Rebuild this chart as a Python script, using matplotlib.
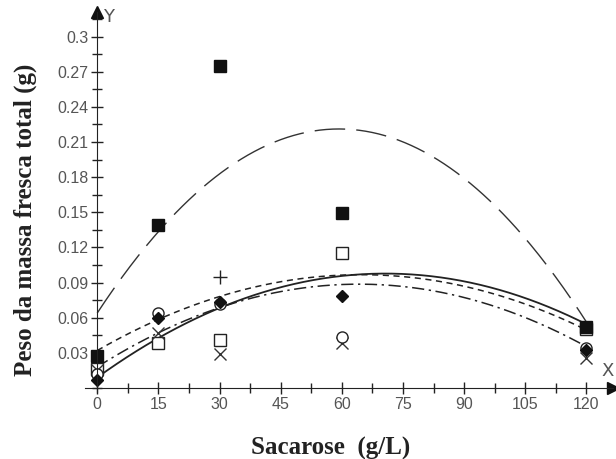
import numpy as np
import matplotlib.pyplot as plt
from matplotlib.ticker import MultipleLocator, FuncFormatter

# sucrose levels (g/L)
sacarose = [0, 15, 30, 60, 120]

# observed means, one list per treatment (marker)
quad_cheio = [0.027, 0.139, 0.275, 0.149, 0.052]     # filled square
quad_vazio = [0.016, 0.0385, 0.041, 0.115, 0.050]    # open square
losango = [0.007, 0.060, 0.0735, 0.0786, 0.0325]     # filled diamond
circulo = [0.012, 0.064, 0.072, 0.0436, 0.034]       # open circle
xis = [0.015, 0.047, 0.029, 0.0385, 0.026]           # x
mais_x = [30]
mais = [0.095]                                       # plus

# quadratic fits (c, b, a)  y = c + b*x + a*x^2
fit_quad_cheio = (0.064, 0.0053, -4.47e-5)
fit_solida = (0.009, 0.00251, -1.776e-5)
fit_tracejada = (0.032, 0.0020, -1.545e-5)
fit_traco_ponto = (0.018, 0.0022, -1.713e-5)

yticks = [0.03, 0.06, 0.09, 0.12, 0.15, 0.18, 0.21, 0.24, 0.27, 0.3]
xticks = [0, 15, 30, 45, 60, 75, 90, 105, 120]

fig = plt.figure(figsize=(6.16, 4.59), dpi=100)
ax = fig.add_axes([0.138, 0.147, 0.857, 0.827])

xs = np.linspace(0, 120, 300)
def curva(coef):
    c, b, a = coef
    return c + b * xs + a * xs ** 2

ax.plot(xs, curva(fit_quad_cheio), color='#333333', lw=1.0, dashes=(22, 8))
ax.plot(xs, curva(fit_solida), color='#222222', lw=1.3)
ax.plot(xs, curva(fit_tracejada), color='#222222', lw=1.1, dashes=(4, 3))
ax.plot(xs, curva(fit_traco_ponto), color='#222222', lw=1.1, dashes=(8, 3, 1.5, 3))

ax.plot(sacarose, quad_vazio, 's', ms=8, mfc='white', mec='#222222', mew=1.0, ls='none', clip_on=False)
ax.plot(sacarose, xis, 'x', ms=9, color='#333333', mew=1.0, ls='none', clip_on=False)
ax.plot(sacarose, circulo, 'o', ms=8, mfc='white', mec='#222222', mew=1.0, ls='none', clip_on=False)
ax.plot(sacarose, losango, 'D', ms=6, color='#111111', ls='none', clip_on=False)
ax.plot(mais_x, mais, '+', ms=10, color='#222222', mew=1.0, ls='none')
ax.plot(sacarose, quad_cheio, 's', ms=9, color='#111111', ls='none', clip_on=False)

ax.set_xlim(-3, 126.5)
ax.set_ylim(-0.003, 0.321)

for side in ['top', 'right']:
    ax.spines[side].set_visible(False)
ax.spines['left'].set_position(('data', 0))
ax.spines['bottom'].set_position(('data', 0))
ax.spines['left'].set_color('#222222')
ax.spines['bottom'].set_color('#222222')

# arrow heads at the end of the axes
ax.plot(1, 0, '>', color='#111111', ms=9, transform=ax.get_yaxis_transform(), clip_on=False)
ax.plot(0, 1, '^', color='#111111', ms=9, transform=ax.get_xaxis_transform(), clip_on=False)
ax.text(1.5, 0.317, 'Y', fontsize=13, color='#555555', va='center', family='DejaVu Sans')
ax.text(125.3, 0.0145, 'X', fontsize=13, color='#555555', ha='center', va='center', family='DejaVu Sans')

ax.set_xticks(xticks)
ax.set_yticks(yticks)
ax.xaxis.set_minor_locator(MultipleLocator(7.5))
ax.yaxis.set_minor_locator(MultipleLocator(0.015))
ax.yaxis.set_major_formatter(FuncFormatter(lambda v, p: ('%g' % round(v, 3))))
ax.tick_params(which='major', direction='inout', length=9, width=1, color='#222222',
               labelsize=11.5, labelcolor='#555555', pad=2)
ax.tick_params(which='minor', direction='inout', length=7, width=1, color='#222222')
for lab in ax.get_xticklabels() + ax.get_yticklabels():
    lab.set_family('Liberation Sans')

fig.text(0.536, 0.022, 'Sacarose  (g/L)', fontsize=18, fontweight='bold',
         family='Liberation Serif', ha='center', va='center', color='#222222')
fig.text(0.041, 0.521, 'Peso da massa fresca total (g)', fontsize=18, fontweight='bold',
         family='Liberation Serif', rotation=90, ha='center', va='center', color='#222222')

fig.savefig('out.png', dpi=100)
